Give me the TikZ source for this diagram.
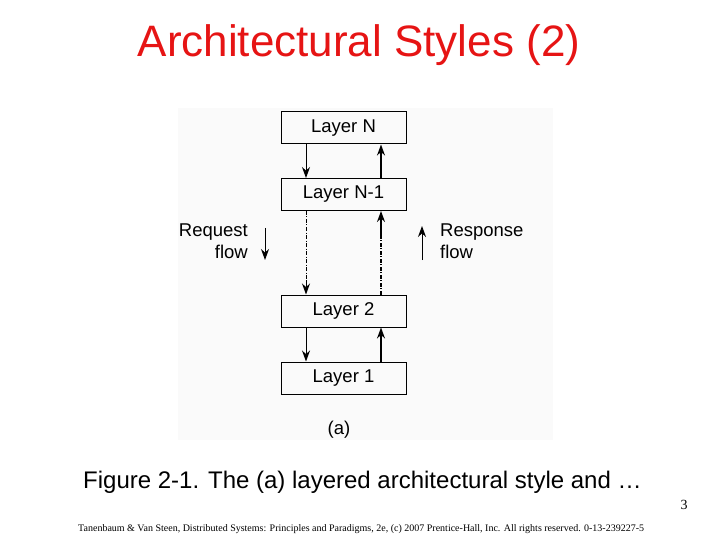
\documentclass[tikz,border=0pt]{standalone}
\usepackage{fontspec}
\setmainfont{Liberation Sans}
\newfontfamily\footfont{Liberation Serif}
\usetikzlibrary{arrows.meta}
\definecolor{titlered}{RGB}{230,20,20}
\begin{document}
\begin{tikzpicture}[x=1pt,y=-1pt,
  layerbox/.style={draw,line width=1pt,minimum width=125pt,minimum height=32pt,inner sep=0pt,font=\fontsize{18.5}{20}\selectfont},
  flow/.style={-{Stealth[length=11pt,width=8pt]},line width=1pt},
  backflow/.style={flow,line width=1.6pt},
  skip/.style={line width=1pt,dash pattern=on 4pt off 1.5pt on 1pt off 1.5pt},
  lbl/.style={font=\fontsize{18.5}{22}\selectfont,inner sep=0pt}]
\useasboundingbox (0,0) rectangle (720,540);
% figure background
\fill[black!2] (178,108) rectangle (553,440);
% title
\node[text=titlered,font=\fontsize{44}{46}\selectfont] (title) at (359,45) {Architectural Styles (2)};
% layers
\node[layerbox] (ln) at (343.5,128) {Layer N};
\node[layerbox] (ln1) at (343.5,194.5) {Layer N-1};
\node[layerbox] (l2) at (343.5,311) {Layer 2};
\node[layerbox] (l1) at (343.5,378) {Layer 1};
% request (down) and response (up) arrows
\draw[flow] (ln.south -| 306,0) -- (ln1.north -| 306,0);
\draw[backflow] (ln1.north -| 381,0) -- (ln.south -| 381,0);
\draw[skip] (ln1.south -| 306,0) -- (306,285);
\draw[flow] (306,280) -- (l2.north -| 306,0);
\draw[skip,line width=1.6pt] (l2.north -| 381,0) -- (381,230);
\draw[backflow] (381,235) -- (ln1.south -| 381,0);
\draw[flow] (l2.south -| 306,0) -- (l1.north -| 306,0);
\draw[backflow] (l1.north -| 381,0) -- (l2.south -| 381,0);
% side labels
\node[lbl,align=right,anchor=east] (req) at (248,241) {Request\\flow};
\node[lbl,align=left,anchor=west] (resp) at (440,241) {Response\\flow};
\coordinate (reqtop) at (265,228);
\coordinate (reqbot) at (265,260);
\coordinate (resptop) at (422,226);
\coordinate (respbot) at (422,260);
\draw[flow] (reqtop) -- (reqbot);
\draw[flow] (respbot) -- (resptop);
\node[lbl] (sub) at (339,430) {(a)};
% caption and footer
\node[font=\fontsize{24}{26}\selectfont,anchor=west,inner sep=0pt] (cap) at (83,482) {Figure 2-1. The (a) layered architectural style and …};
\node[font=\fontsize{14}{16}\selectfont\footfont,inner sep=0pt] (page) at (684,505) {3};
\node[font=\fontsize{10}{11}\selectfont\footfont,anchor=west,inner sep=0pt] (foot) at (78,529) {Tanenbaum \& Van Steen, Distributed Systems: Principles and Paradigms, 2e, (c) 2007 Prentice-Hall, Inc. All rights reserved. 0-13-239227-5};
\end{tikzpicture}
\end{document}
